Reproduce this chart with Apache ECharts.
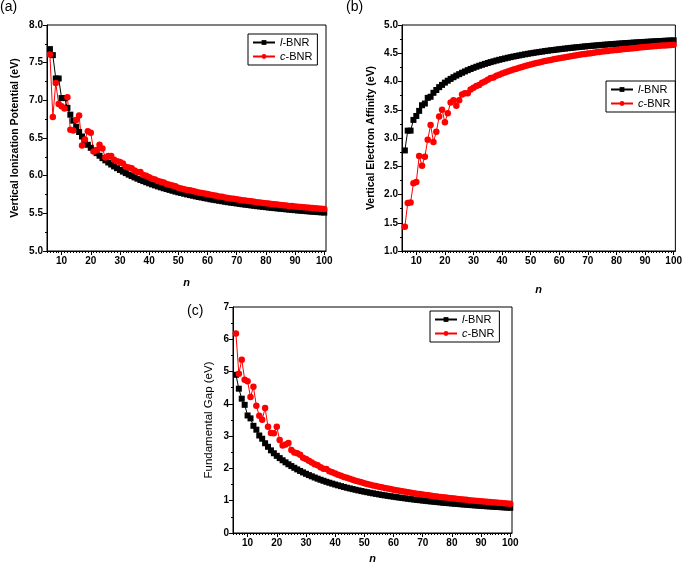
<!DOCTYPE html>
<html><head><meta charset="utf-8">
<script src="https://cdn.jsdelivr.net/npm/echarts@6/dist/echarts.min.js"></script>
<style>html,body{margin:0;padding:0;background:#fff}#c{width:685px;height:567px}</style>
</head><body><div id="c"></div>
<script>
const nValues = [6,7,8,9,10,11,12,13,14,15,16,17,18,19,20,
21,22,23,24,25,26,27,28,29,30,31,32,33,34,35,36,37,38,39,40,
41,42,43,44,45,46,47,48,49,50,51,52,53,54,55,56,57,58,59,60,
61,62,63,64,65,66,67,68,69,70,71,72,73,74,75,76,77,78,79,80,
81,82,83,84,85,86,87,88,89,90,91,92,93,94,95,96,97,98,99,100];

const xTickLabels = [10,20,30,40,50,60,70,80,90,100];

const ipL = [7.68,7.60,7.29,7.29,7.03,7.03,6.90,6.81,6.73,6.65,6.58,6.52,6.46,6.41,6.37,
6.334,6.299,6.265,6.233,6.203,6.175,6.148,6.123,6.099,6.076,
6.054,6.034,6.014,5.995,5.977,5.960,5.943,5.928,5.913,5.898,
5.884,5.871,5.858,5.845,5.833,5.822,5.811,5.800,5.789,5.779,
5.770,5.760,5.751,5.742,5.734,5.725,5.717,5.710,5.702,5.695,
5.687,5.680,5.674,5.667,5.661,5.654,5.648,5.642,5.637,5.631,
5.626,5.620,5.615,5.610,5.605,5.600,5.595,5.591,5.586,5.582,
5.577,5.573,5.569,5.565,5.561,5.557,5.553,5.549,5.546,5.542,
5.538,5.535,5.532,5.528,5.525,5.522,5.519,5.516,5.513,5.510];

const ipC = [7.61,6.78,7.23,6.95,6.92,6.89,7.04,6.61,6.60,6.74,6.80,6.40,6.48,6.59,6.57,
6.32,6.34,6.41,6.36,6.24,6.26,6.26,6.21,6.19,6.18,
6.16,6.12,6.11,6.10,6.07,6.05,6.05,6.01,6.00,5.98,
5.96,5.95,5.93,5.92,5.91,5.89,5.88,5.87,5.86,5.84,
5.83,5.82,5.81,5.805,5.796,5.787,5.778,5.771,5.762,5.755,
5.747,5.739,5.733,5.725,5.719,5.711,5.705,5.698,5.693,5.686,
5.681,5.675,5.669,5.664,5.659,5.653,5.648,5.644,5.638,5.634,
5.629,5.624,5.620,5.616,5.611,5.607,5.603,5.599,5.596,5.591,
5.587,5.584,5.581,5.577,5.573,5.570,5.567,5.564,5.561,5.558];

const eaL = [2.78,3.13,3.13,3.32,3.39,3.48,3.58,3.61,3.71,3.73,3.80,3.85,3.90,3.94,3.98,
4.014,4.046,4.076,4.104,4.130,4.155,4.178,4.201,4.222,4.242,
4.261,4.279,4.296,4.312,4.328,4.343,4.357,4.371,4.384,4.396,
4.408,4.420,4.431,4.442,4.452,4.462,4.472,4.481,4.490,4.499,
4.507,4.515,4.523,4.530,4.538,4.545,4.552,4.558,4.565,4.571,
4.577,4.583,4.589,4.595,4.600,4.606,4.611,4.616,4.621,4.626,
4.630,4.635,4.639,4.644,4.648,4.652,4.656,4.660,4.664,4.668,
4.671,4.675,4.679,4.682,4.685,4.689,4.692,4.695,4.698,4.701,
4.704,4.707,4.710,4.713,4.716,4.718,4.721,4.724,4.726,4.729];

const eaC = [1.43,1.85,1.86,2.20,2.22,2.68,2.51,2.67,2.97,3.23,2.93,3.11,3.38,3.50,3.28,
3.44,3.63,3.67,3.57,3.67,3.77,3.79,3.79,3.86,3.89,
3.92,3.94,3.98,4.00,4.03,4.06,4.07,4.10,4.12,4.14,
4.158,4.176,4.194,4.211,4.227,4.243,4.258,4.273,4.287,4.300,
4.313,4.326,4.338,4.350,4.361,4.372,4.382,4.393,4.403,4.412,
4.422,4.431,4.440,4.448,4.457,4.465,4.473,4.481,4.488,4.495,
4.502,4.509,4.516,4.523,4.529,4.535,4.541,4.547,4.553,4.559,
4.564,4.570,4.575,4.580,4.585,4.590,4.595,4.600,4.605,4.609,
4.614,4.618,4.622,4.627,4.631,4.635,4.639,4.643,4.646,4.650];

const gapL = [4.90,4.47,4.16,3.97,3.64,3.55,3.32,3.20,3.02,2.92,2.78,2.67,2.56,2.47,2.39,
2.320,2.253,2.189,2.129,2.073,2.020,1.970,1.922,1.877,1.834,
1.793,1.755,1.718,1.683,1.649,1.617,1.586,1.557,1.529,1.502,
1.476,1.451,1.427,1.403,1.381,1.360,1.339,1.319,1.299,1.280,
1.263,1.245,1.228,1.212,1.196,1.180,1.165,1.152,1.137,1.124,
1.110,1.097,1.085,1.072,1.061,1.048,1.037,1.026,1.016,1.005,
0.996,0.985,0.976,0.966,0.957,0.948,0.939,0.931,0.922,0.914,
0.906,0.898,0.890,0.883,0.876,0.868,0.861,0.854,0.848,0.841,
0.834,0.828,0.822,0.815,0.809,0.804,0.798,0.792,0.787,0.781];

const gapC = [6.18,4.93,5.37,4.75,4.70,4.21,4.53,3.94,3.63,3.51,3.87,3.29,3.10,3.09,3.29,
2.88,2.71,2.74,2.79,2.57,2.49,2.47,2.42,2.33,2.29,
2.24,2.18,2.13,2.10,2.04,1.99,1.98,1.91,1.88,1.84,
1.802,1.774,1.736,1.709,1.683,1.647,1.622,1.597,1.573,1.540,
1.517,1.494,1.472,1.455,1.435,1.415,1.396,1.378,1.359,1.343,
1.325,1.308,1.293,1.277,1.262,1.246,1.232,1.217,1.205,1.191,
1.179,1.166,1.153,1.141,1.130,1.118,1.107,1.097,1.085,1.075,
1.065,1.054,1.045,1.036,1.026,1.017,1.008,0.999,0.991,0.982,
0.973,0.966,0.959,0.950,0.942,0.935,0.928,0.921,0.915,0.908];

const FONT = '"Liberation Sans", Arial, sans-serif';
const xMinorTicks = [];
for (let v = 5; v <= 100; v++) xMinorTicks.push(v);

const grids = [
  {left: 47, top: 25, width: 279, height: 226},
  {left: 402, top: 25, width: 277, height: 226},
  {left: 233, top: 307, width: 279, height: 226}
].map(g => Object.assign(g, {show: true, borderColor: '#000', borderWidth: 1, backgroundColor: 'transparent'}));

const xNameGaps = [26, 33, 20];
const xAxes = [];
[0, 1, 2].forEach(g => {
  xAxes.push({
    gridIndex: g, type: 'value', min: 5, max: 100.6, position: 'bottom',
    axisLine: {show: true, onZero: false, lineStyle: {color: '#000', width: 1}},
    axisTick: {show: true, customValues: xTickLabels, length: 4, lineStyle: {color: '#000', width: 1}},
    axisLabel: {customValues: xTickLabels, fontWeight: 'bold', fontSize: 10, color: '#000', margin: 5, fontFamily: FONT},
    splitLine: {show: false},
    name: 'n', nameLocation: 'middle', nameGap: xNameGaps[g],
    nameTextStyle: {fontStyle: 'italic', fontWeight: 'bold', fontSize: 11, color: '#000', fontFamily: FONT}
  });
  xAxes.push({
    gridIndex: g, type: 'value', min: 5, max: 100.6, position: 'bottom',
    axisLine: {show: false, onZero: false},
    axisTick: {show: true, customValues: xMinorTicks, length: 2, lineStyle: {color: '#000', width: 1}},
    axisLabel: {show: false}, splitLine: {show: false}
  });
});

function yAxis(g, min, max, interval, name, gap, digits, nameStyle) {
  return {
    gridIndex: g, type: 'value', min: min, max: max, interval: interval,
    axisLine: {show: true, onZero: false, lineStyle: {color: '#000', width: 1}},
    axisTick: {show: true, length: 4, lineStyle: {color: '#000', width: 1}},
    minorTick: {show: true, splitNumber: 2, length: 2, lineStyle: {color: '#000', width: 1}},
    axisLabel: {fontWeight: 'bold', fontSize: 10, color: '#000', margin: 4, fontFamily: FONT,
      formatter: v => v.toFixed(digits)},
    splitLine: {show: false},
    name: name, nameLocation: 'middle', nameGap: gap,
    nameTextStyle: Object.assign({color: '#000', fontFamily: FONT}, nameStyle)
  };
}

const yAxes = [
  yAxis(0, 5, 8, 0.5, 'Vertical Ionization Potential (eV)', 26, 1, {fontWeight: 'bold', fontSize: 10.5}),
  yAxis(1, 1, 5, 0.5, 'Vertical Electron Affinity (eV)', 25, 1, {fontWeight: 'bold', fontSize: 10.5}),
  yAxis(2, 0, 7, 1, 'Fundamental Gap (eV)', 18, 0, {fontWeight: 'normal', fontSize: 11.5})
];

const pair = arr => nValues.map((n, i) => [n, arr[i]]);
function lSeries(g, arr) {
  return {name: 'l-BNR', type: 'line', xAxisIndex: g * 2, yAxisIndex: g, data: pair(arr),
    symbol: 'rect', symbolSize: 6, showSymbol: true, animation: false,
    lineStyle: {color: '#000', width: 1}, itemStyle: {color: '#000'}};
}
function cSeries(g, arr) {
  return {name: 'c-BNR', type: 'line', xAxisIndex: g * 2, yAxisIndex: g, data: pair(arr),
    symbol: 'circle', symbolSize: 6.5, showSymbol: true, animation: false,
    lineStyle: {color: '#ff0000', width: 1}, itemStyle: {color: '#ff0000'}};
}

function legend(left, top) {
  return {
    left: left, top: top, orient: 'vertical', data: ['l-BNR', 'c-BNR'],
    borderColor: '#000', borderWidth: 1, padding: [3, 5, 3, 4], itemGap: 3,
    itemWidth: 22, itemHeight: 6, selectedMode: false,
    formatter: name => name === 'l-BNR' ? '{i|l}{t|-BNR}' : '{i|c}{t|-BNR}',
    textStyle: {fontSize: 11, color: '#000', fontFamily: FONT,
      rich: {i: {fontStyle: 'italic', fontSize: 11, fontFamily: FONT, color: '#000'},
             t: {fontSize: 11, fontFamily: FONT, color: '#000'}}}
  };
}

const option = {
  backgroundColor: '#fff',
  animation: false,
  grid: grids,
  xAxis: xAxes,
  yAxis: yAxes,
  legend: [legend(248, 34), legend(606, 81), legend(430, 311)],
  series: [lSeries(0, ipL), cSeries(0, ipC), lSeries(1, eaL), cSeries(1, eaC), lSeries(2, gapL), cSeries(2, gapC)],
  graphic: [
    {type: 'text', left: 0, top: 0, style: {text: '(a)', fontSize: 14, fontFamily: FONT, fill: '#000'}},
    {type: 'text', left: 346, top: 0, style: {text: '(b)', fontSize: 14, fontFamily: FONT, fill: '#000'}},
    {type: 'text', left: 187, top: 304, style: {text: '(c)', fontSize: 14, fontFamily: FONT, fill: '#000'}}
  ]
};
const chart = echarts.init(document.getElementById('c'), null, {renderer: 'canvas'});
chart.setOption(option);
</script></body></html>
